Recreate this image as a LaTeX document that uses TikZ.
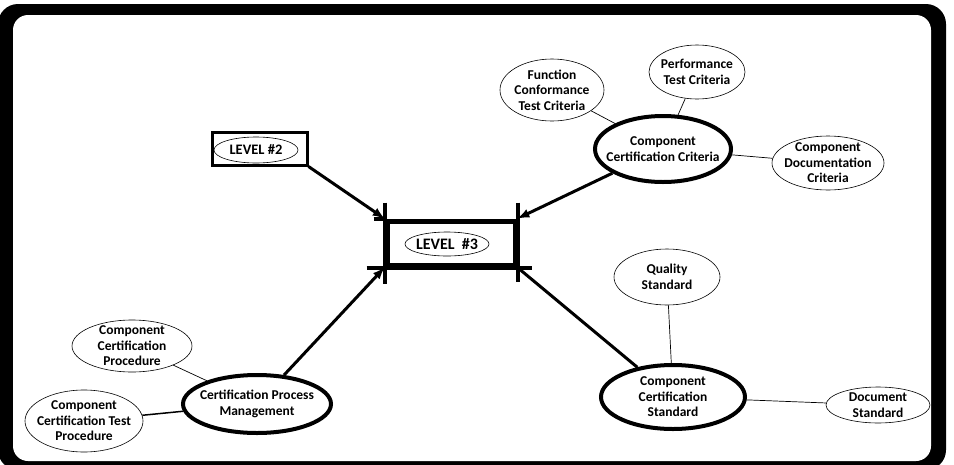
\documentclass[tikz,border=0pt]{standalone}
\usepackage{fontspec}
\setmainfont{Carlito}
\usetikzlibrary{shapes.geometric}

\tikzstyle{oval} = [draw, ellipse, inner xsep = -10pt, inner ysep = -8pt, align = center, font = \bfseries\fontsize{13.5}{15.5}\selectfont, line width = 0.6pt]
\tikzstyle{bigoval} = [oval, line width = 4pt]
\tikzstyle{levelbox} = [draw, rectangle, inner sep = 0pt]

\begin{document}
\begin{tikzpicture}[x=1pt, y=-1pt]
		\useasboundingbox (0,0) rectangle (954,464);
		\fill [black, rounded corners = 20pt] (-2, 4) rectangle (946, 470);
		\fill [white, rounded corners = 15pt] (13, 15) rectangle (931, 461);

		\node [levelbox, line width = 3pt, minimum width = 95pt, minimum height = 33pt] at (259.5, 148.5) (1) {};
		\node [oval, minimum width = 84pt, minimum height = 26pt, font = \bfseries\fontsize{14.5}{15}\selectfont] at (256, 150) (1a) {LEVEL \#2};

		\node [levelbox, line width = 5pt, minimum width = 128pt, minimum height = 44pt] at (451, 243) (2) {};
		\node [oval, minimum width = 84pt, minimum height = 24pt, font = \bfseries\fontsize{16}{15}\selectfont] at (447, 244) (2a) {LEVEL\ \ \#3};
		\draw [line width = 4pt] ([yshift = 16pt] 2.north west) -- ([yshift = -16pt] 2.south west);
		\draw [line width = 4pt] ([yshift = 16pt] 2.north east) -- ([yshift = -14pt] 2.south east);
		\draw [line width = 4pt] ([xshift = -18pt] 2.south west) -- ([xshift = 14pt] 2.south east);
		\draw [line width = 4pt] ([xshift = -11pt] 2.north west) -- (2.north west);

		\node [bigoval, minimum width = 136pt, minimum height = 66pt] at (663, 149) (3) {Component\\Certification Criteria};
		\node [oval, minimum width = 104pt, minimum height = 62pt] at (552, 90) (4) {Function\\Conformance\\Test Criteria};
		\node [oval, minimum width = 96pt, minimum height = 54pt] at (697, 72) (5) {Performance\\Test Criteria};
		\node [oval, minimum width = 112pt, minimum height = 54pt] at (828, 163) (6) {Component\\Documentation\\Criteria};

		\node [bigoval, minimum width = 144pt, minimum height = 64pt] at (673, 397) (7) {Component\\Certification\\Standard};
		\node [oval, minimum width = 106pt, minimum height = 56pt] at (667, 277) (8) {Quality\\Standard};
		\node [oval, minimum width = 104pt, minimum height = 36pt] at (878, 405) (9) {Document\\Standard};

		\node [bigoval, minimum width = 148pt, minimum height = 58pt] at (257, 404) (10) {Certification Process\\Management};
		\node [oval, minimum width = 120pt, minimum height = 52pt] at (132, 346) (11) {Component\\Certification\\Procedure};
		\node [oval, minimum width = 118pt, minimum height = 62pt] at (84, 421) (12) {Component\\Certification Test\\Procedure};

		\draw [-latex, line width = 3pt] (1.south east) -- (2.north west);
		\draw [-latex, line width = 3pt] (3) -- (2.north east);
		\draw [-latex, line width = 3pt] (10) -- (2.south west);
		\draw [line width = 3pt] (2.south east) -- (7);

		\draw [line width = 0.7pt] (4) -- (3);
		\draw [line width = 0.7pt] (5) -- (3);
		\draw [line width = 0.7pt] (6) -- (3);
		\draw [line width = 0.7pt] (8) -- (7);
		\draw [line width = 0.7pt] (9) -- (7);
		\draw [line width = 0.7pt] (11) -- (10);
		\draw [line width = 1.5pt] (12) -- (10);
	\end{tikzpicture}
\end{document}
